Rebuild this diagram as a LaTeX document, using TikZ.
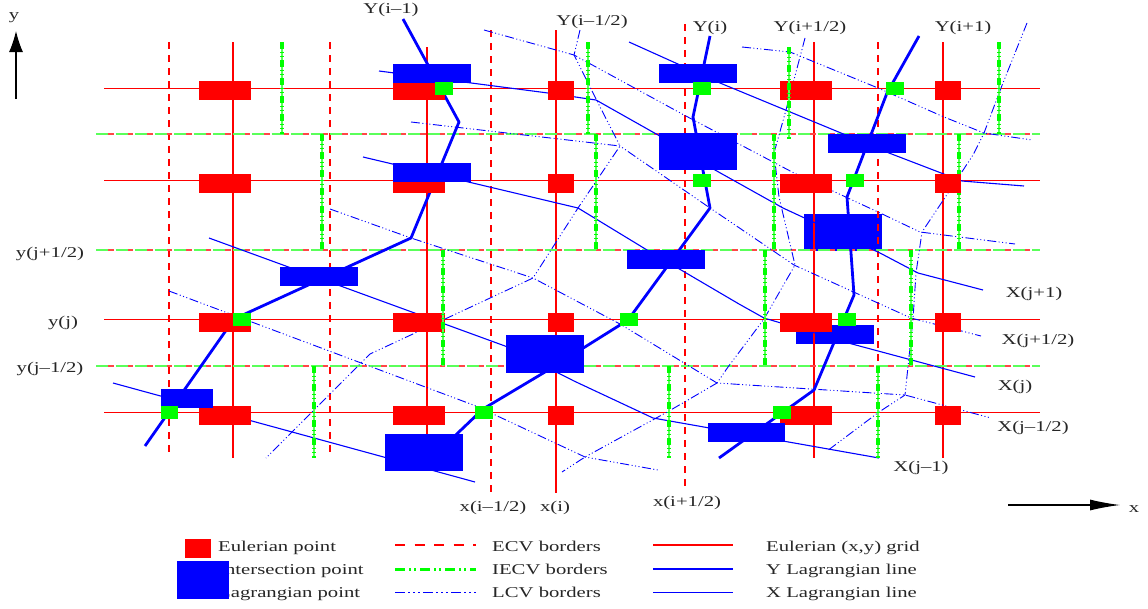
\documentclass[tikz,border=0pt]{standalone}
\usepackage{fontspec}
\setmainfont{Liberation Serif}[FakeStretch=1.38]
\usetikzlibrary{arrows.meta}
\definecolor{palegreen}{RGB}{90,255,90}
\definecolor{palered}{RGB}{255,70,70}
\tikzset{
  lab/.style={inner sep=0pt,font=\fontsize{15pt}{17pt}\selectfont,text=black!85},
  leglab/.style={lab,anchor=base west},
  gridline/.style={draw=red,line width=1pt},
  gridleg/.style={draw=red,line width=1.8pt},
  gridv/.style={draw=red,line width=1.5pt},
  ecv/.style={draw=red,line width=1.8pt,dash pattern=on 7pt off 6pt},
  ecvleg/.style={draw=red,line width=1.8pt,dash pattern=on 10pt off 9.5pt},
  iecvh/.style={draw=palegreen,line width=1.1pt,dash pattern=on 17.5pt off 2pt},
  ecvh/.style={draw=palered,line width=1.1pt,dash pattern=on 5.5pt off 14pt,dash phase=-12pt},
  iecvbase/.style={draw=palegreen,line width=1.5pt},
  iecv/.style={draw=green,line width=4.6pt,dash pattern=on 6.5pt off 3pt on 1pt off 3pt on 1pt off 3.5pt},
  iecvleg/.style={draw=green,line width=3pt,dash pattern=on 10pt off 4pt on 1.5pt off 3.5pt on 1.5pt off 4.5pt},
  lcv/.style={draw=blue,line width=.9pt,dash pattern=on 9pt off 2.5pt on 1pt off 2.5pt on 1pt off 2.5pt on 1pt off 2.5pt},
  lcvleg/.style={draw=blue,line width=1.2pt,dash pattern=on 10pt off 3pt on 1.5pt off 3.5pt on 1.5pt off 3.5pt on 1.5pt off 3.5pt},
  ylag/.style={draw=blue,line width=2.8pt,line join=round},
  xlag/.style={draw=blue,line width=1.1pt,line join=round},
  redbox/.style={fill=red},
  bluebox/.style={fill=blue},
  greenbox/.style={fill=green},
  axis/.style={draw=black,line width=1.1pt,-{Latex[length=21pt,width=14pt]}},
  axisx/.style={draw=black,line width=1.1pt,-{Latex[length=30pt,width=11pt]}}
}
\newcommand{\iecvline}[3]{\draw[iecvbase] (#1,#2) -- (#1,#3); \draw[iecv] (#1,#2) -- (#1,#3);}
\begin{document}
\begin{tikzpicture}[x=1pt,y=-1pt]
\useasboundingbox (0,0) rectangle (1148,608);
% Legend lines
\draw[gridleg] (653,545) -- (733,545);
\draw[ylag] (653,569) -- (733,569);
\draw[xlag] (653,592.5) -- (733,592.5);
\draw[ecvleg] (395,545) -- (476,545);
\draw[iecvleg] (395,569) -- (476,569);
\draw[lcvleg] (395,592.5) -- (476,592.5);
% blue boxes lying beneath the grid
\fill[bluebox] (804,214) rectangle (882,251);
\fill[bluebox] (796,325) rectangle (874,344);
% Eulerian grid
\foreach \y in {88,180,319,412} \draw[gridline] (104,\y) -- (1040,\y);
\foreach \x/\a/\b in {233/42/458,427/47/465,556/30/493,814/42/458,943/42/458} \draw[gridv] (\x,\a) -- (\x,\b);
\foreach \x/\a/\b in {169/42/452,330/42/452,491/30/493,685/24/487,878/42/458} \draw[ecv] (\x,\a) -- (\x,\b);
\foreach \y in {134,250,366} {
  \draw[iecvh] (96,\y) -- (1040,\y);
  \draw[ecvh] (96,\y) -- (1040,\y);
}
% X Lagrangian lines
\draw[xlag] (629,42) -- (720,83) -- (841,133) -- (889,153) -- (962,181) -- (1024,186);
\draw[xlag] (379,71) -- (548,93) -- (596,100) -- (658,135) -- (715,170) -- (783,208) -- (880,253) -- (918,273) -- (983,290);
\draw[xlag] (363,157) -- (578,208) -- (647,250) -- (739,304) -- (764,318) -- (852,344) -- (975,377);
\draw[xlag] (209,238) -- (505,346) -- (574,381) -- (653,418) -- (879,458);
\draw[xlag] (113,383) -- (475,482);
% Y Lagrangian lines
\draw[ylag] (403,19) -- (459,122) -- (411,238) -- (234,319) -- (145,446);
\draw[ylag] (710,36) -- (693,117) -- (710,208) -- (628,320) -- (545,372) -- (483,409) -- (440,450);
\draw[ylag] (919,36) -- (887,93) -- (847,197) -- (854,295) -- (814,390) -- (719,458);
% LCV borders
\draw[lcv] (742,47) -- (790,52) -- (878,88) -- (944,117) -- (984,133) -- (1032,140);
\draw[lcv] (484,30) -- (574,55) -- (684,115) -- (737,143) -- (794,173) -- (878,212) -- (920,232) -- (1015,244);
\draw[lcv] (411,122) -- (620,146) -- (710,208) -- (794,265) -- (911,318) -- (981,336);
\draw[lcv] (330,209) -- (411,238) -- (533,278) -- (620,324) -- (717,383) -- (905,395) -- (991,418);
\draw[lcv] (169,291) -- (476,406) -- (585,457) -- (658,470);
\draw[lcv] (580,30) -- (574,55) -- (596,99) -- (620,146) -- (578,208) -- (533,278) -- (370,354) -- (266,458);
\draw[lcv] (805,38) -- (786,110) -- (774,153) -- (779,197) -- (795,265) -- (764,319) -- (728,367) -- (717,383) -- (669,411) -- (585,457) -- (562,472);
\draw[lcv] (1027,23) -- (1001,88) -- (984,133) -- (973,155) -- (948,193) -- (922,232) -- (916,273) -- (913,319) -- (905,395) -- (879,412) -- (827,451);
% IECV borders
\foreach \x/\a/\b in {282/42/134,322/134/250,314/366/458,588/42/134,596/134/250,774/134/250,765/250/366,669/366/458,878/366/458,911/250/366,959/134/250,999/42/134}
  {\iecvline{\x}{\a}{\b}}
% Eulerian points
\foreach \a/\b in {81/100,174/193,313/332,406/425}
  \foreach \l/\r in {199/251,393/445,548/574,780/832,935/961}
    \fill[redbox] (\l,\a) rectangle (\r,\b);
\foreach \x/\a/\b in {443/250/366,789/47/139}
  {\iecvline{\x}{\a}{\b}}
% Lagrangian points
\foreach \l/\t/\r/\b in {393/64/471/83,393/163/471/182,280/267/358/286,161/389/213/408,385/434/463/471,506/335/584/373,659/64/737/83,659/133/737/170,828/134/906/153,627/250/705/269,708/423/785/442}
  \fill[bluebox] (\l,\t) rectangle (\r,\b);
% Intersection points
\foreach \l/\t in {435/82,693/82,886/82,693/174,846/174,233/313,620/313,838/313,160.5/406,475/406,773/406}
  \fill[greenbox] (\l,\t) rectangle (\l+17.5,\t+12.5);
% Axes
\coordinate (yfoot) at (16,99); \coordinate (ytip) at (16,31);
\coordinate (xfoot) at (1008,505); \coordinate (xtip) at (1120,505);
\draw[axis] (yfoot) -- (ytip);
\draw[axisx] (xfoot) -- (xtip);
% Labels
\node[lab] (ylab) at (14,18) {y};
\node[lab] (xlab) at (1134,509) {x};
\node[lab] (Yim) at (391,10) {Y(i–1)};
\node[lab] (Yimh) at (592,22) {Y(i–1/2)};
\node[lab] (Yi) at (710,28) {Y(i)};
\node[lab] (Yiph) at (810,28) {Y(i+1/2)};
\node[lab] (Yip) at (963,28) {Y(i+1)};
\node[lab] (yjph) at (50,254) {y(j+1/2)};
\node[lab] (yj) at (63,323) {y(j)};
\node[lab] (yjmh) at (50,369) {y(j–1/2)};
\node[lab] (ximh) at (493,508) {x(i–1/2)};
\node[lab] (xi) at (555,508) {x(i)};
\node[lab] (xiph) at (687,503) {x(i+1/2)};
\node[lab] (Xjp) at (1034,294) {X(j+1)};
\node[lab] (Xjph) at (1038,341) {X(j+1/2)};
\node[lab] (Xj) at (1015,387) {X(j)};
\node[lab] (Xjmh) at (1033,428) {X(j–1/2)};
\node[lab] (Xjm) at (921,468) {X(j–1)};
% Legend
\node[leglab] (leg1) at (218,551) {Eulerian point};
\node[leglab] (leg2) at (218,574.5) {Intersection point};
\node[leglab] (leg3) at (218,597.5) {Lagrangian point};
\fill[redbox] (185,539) rectangle (211,558);
\fill[bluebox] (177,561) rectangle (229,599);
\node[leglab] (leg4) at (492,551) {ECV borders};
\node[leglab] (leg5) at (492,574.5) {IECV borders};
\node[leglab] (leg6) at (492,597.5) {LCV borders};
\node[leglab] (leg7) at (766,551) {Eulerian (x,y) grid};
\node[leglab] (leg8) at (766,574.5) {Y Lagrangian line};
\node[leglab] (leg9) at (766,597.5) {X Lagrangian line};
\end{tikzpicture}
\end{document}
